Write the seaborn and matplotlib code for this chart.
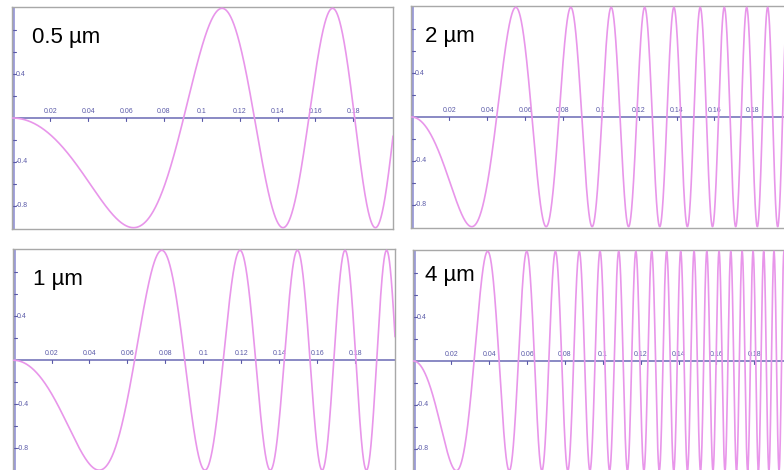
import numpy as np
import pandas as pd
import matplotlib.pyplot as plt
import seaborn as sns

sns.set_style("white")
plt.rcParams["font.family"] = ["Liberation Sans", "DejaVu Sans"]

# panel labels and the x position of the first minimum
sizes = ["0.5 µm", "1 µm", "2 µm", "4 µm"]
first_min_x = [0.0639, 0.0451, 0.0318, 0.0226]

x_ticks = [0.02, 0.04, 0.06, 0.08, 0.1, 0.12, 0.14, 0.16, 0.18]
x_tick_labels = ["0.02", "0.04", "0.06", "0.08", "0.1", "0.12", "0.14", "0.16", "0.18"]
y_ticks = [0.8, 0.6, 0.4, 0.2, -0.2, -0.4, -0.6, -0.8]
y_tick_labels = {0.4: "0.4", -0.4: "-0.4", -0.8: "-0.8"}

x_max = 0.201

# pixel boxes (left, top, right, bottom) of the four panels in the 784x470 figure
W, H = 784, 470
boxes = {
    "0.5 µm": (12, 7, 393, 229),
    "2 µm": (411, 6, 792, 228),
    "1 µm": (13, 249, 395, 471.5),
    "4 µm": (413, 250, 794, 472),
}
label_offset = {"0.5 µm": (20, 20), "2 µm": (14, 20), "1 µm": (20, 20), "4 µm": (12, 15)}

curve_color = "#e896ea"
axis_color = "#6a6ab4"
yaxis_color = "#9a9ad8"
tick_color = "#5a5aa8"

fig = plt.figure(figsize=(W / 100, H / 100), dpi=100)

for name, x1 in zip(sizes, first_min_x):
    l, t, r, b = boxes[name]
    ax = fig.add_axes([l / W, 1 - b / H, (r - l) / W, (b - t) / H])

    x = np.linspace(0, x_max, 6000)
    df = pd.DataFrame({"x": x, "y": -np.sin(np.pi / 2 * (x / x1) ** 2)})
    sns.lineplot(data=df, x="x", y="y", ax=ax, color=curve_color,
                 linewidth=1.2, zorder=3)

    ax.set_xlim(-0.0003, x_max)
    ax.set_ylim(-1.012, 1.012)
    ax.set_xticks([])
    ax.set_yticks([])
    ax.set_xlabel("")
    ax.set_ylabel("")
    for s in ax.spines.values():
        s.set_color("#a8a8a8")
        s.set_linewidth(1.0)

    # axis lines through the origin
    ax.axhline(0, color=axis_color, linewidth=1.1, zorder=2)
    ax.axvline(0, color=yaxis_color, linewidth=2.0, zorder=2)

    for xt, lab in zip(x_ticks, x_tick_labels):
        ax.plot([xt, xt], [-0.025, 0.0], color=tick_color, linewidth=0.8, zorder=2)
        ax.text(xt, 0.03, lab, fontsize=5, color=tick_color, ha="center",
                va="bottom", zorder=2)
    for yt in y_ticks:
        ax.plot([-0.0003, 0.0016], [yt, yt], color=tick_color, linewidth=0.8, zorder=2)
        if yt in y_tick_labels:
            ax.text(0.0018, yt, y_tick_labels[yt], fontsize=5, color=tick_color,
                    ha="left", va="center", zorder=2)

    dx, dy = label_offset[name]
    ax.text(dx / (r - l), 1 - dy / (b - t), name, transform=ax.transAxes,
            fontsize=16, color="black", ha="left", va="top", zorder=4)

fig.savefig("out.png", dpi=100)
